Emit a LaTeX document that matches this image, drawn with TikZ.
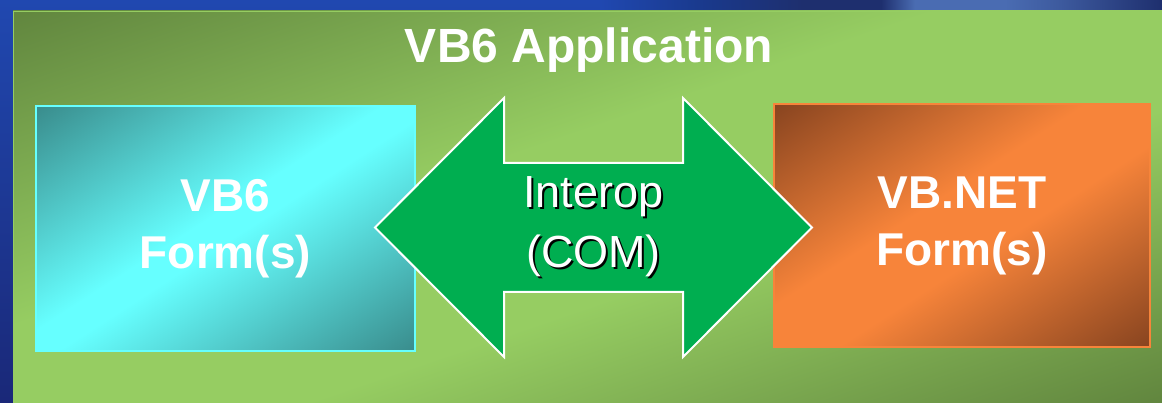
\documentclass[tikz,border=0pt]{standalone}
\usepackage{fontspec}
\setmainfont{Liberation Sans}
\usepackage{xcolor}
\definecolor{slide-blue}{HTML}{2048B0}
\definecolor{slide-navy}{HTML}{1A2878}
\definecolor{slide-haze}{HTML}{4A6CB2}
\definecolor{slide-ink}{HTML}{1E2F6E}
\definecolor{slide-green-dark}{HTML}{62873F}
\definecolor{slide-green-light}{HTML}{96CD62}
\definecolor{slide-teal}{HTML}{3A8E8E}
\definecolor{slide-cyan}{HTML}{66FFFF}
\definecolor{slide-brown}{HTML}{8A4520}
\definecolor{slide-orange}{HTML}{F7843A}
\definecolor{slide-arrow}{HTML}{00AE50}
\usepackage{tikz}

\pgfdeclarehorizontalshading{topstreak}{100bp}{color(0bp)=(slide-blue); color(25bp)=(slide-blue); color(34bp)=(slide-blue!80!black); color(43bp)=(slide-ink); color(50bp)=(slide-ink); color(53bp)=(slide-haze); color(61bp)=(slide-haze); color(66bp)=(slide-haze!70!slide-ink); color(75bp)=(slide-ink); color(100bp)=(slide-ink)}
\pgfdeclareverticalshading{greenglow}{100bp}{color(0bp)=(slide-green-dark); color(15bp)=(slide-green-dark); color(41bp)=(slide-green-light); color(57bp)=(slide-green-light); color(85bp)=(slide-green-dark); color(100bp)=(slide-green-dark)}
\pgfdeclareverticalshading{cyanglow}{100bp}{color(0bp)=(slide-teal); color(15bp)=(slide-teal); color(48bp)=(slide-cyan); color(53bp)=(slide-cyan); color(85bp)=(slide-teal); color(100bp)=(slide-teal)}
\pgfdeclareverticalshading{orangeglow}{100bp}{color(0bp)=(slide-brown); color(15bp)=(slide-brown); color(44bp)=(slide-orange); color(56bp)=(slide-orange); color(85bp)=(slide-brown); color(100bp)=(slide-brown)}

% diagonal glow stretched over a box: x, y, width, height, shading
\newcommand{\glowbox}[5]{%
    \begin{scope}[transform canvas={shift={(#1, #2)}, xscale=#3/100, yscale=#4/100}]
        \shade[shading=#5, shading angle=45] (0, 0) rectangle (100, 100);
    \end{scope}}

\newcommand{\castshadow}[1]{\makebox[0pt][l]{\hspace{2pt}\raisebox{-2pt}{\color{black}#1}}#1}

\tikzset{
    formbox/.style={minimum width=379pt, minimum height=245pt, line width=2pt, text=white, align=center, font=\bfseries\fontsize{46}{57}\selectfont},
}

\begin{document}
\begin{tikzpicture}[x=1pt, y=-1pt]

    \useasboundingbox (0, 0) rectangle (1162, 403);

    % Background
    \shade[top color=slide-blue, bottom color=slide-navy] (0, 0) rectangle (1162, 403);
    \shade[shading=topstreak] (600, 0) rectangle (1162, 11);

    % Application frame
    \glowbox{13}{11}{1149}{392}{greenglow}
    \draw[slide-green-light, line width=1pt] (13.5, 11.5) -- (1162, 11.5) (13.5, 11.5) -- (13.5, 403);
    \node[anchor=base, text=white, font=\bfseries\fontsize{48}{58}\selectfont] (title) at (589, 63) {VB6 Application};

    % Forms
    \glowbox{36}{106}{379}{245}{cyanglow}
    \node[formbox, draw=slide-cyan] (vbsix) at (225.5, 228.5) {VB6\\Form(s)};
    \glowbox{774}{104}{376}{243}{orangeglow}
    \node[formbox, minimum width=376pt, minimum height=243pt, draw=slide-orange] (vbnet) at (962, 225.5) {VB.NET\\Form(s)};

    % Interop arrow
    \fill[slide-arrow, draw=white, line width=2pt, line join=miter] (375, 227.5) -- (504, 98) -- (504, 163) -- (683, 163) -- (683, 98) -- (812, 227.5) -- (683, 357) -- (683, 292) -- (504, 292) -- (504, 357) -- cycle;
    \node[text=white, align=center, font=\fontsize{45}{60}\selectfont] (interop) at (593.5, 228) {\castshadow{Interop}\\\castshadow{(COM)}};

\end{tikzpicture}
\end{document}
